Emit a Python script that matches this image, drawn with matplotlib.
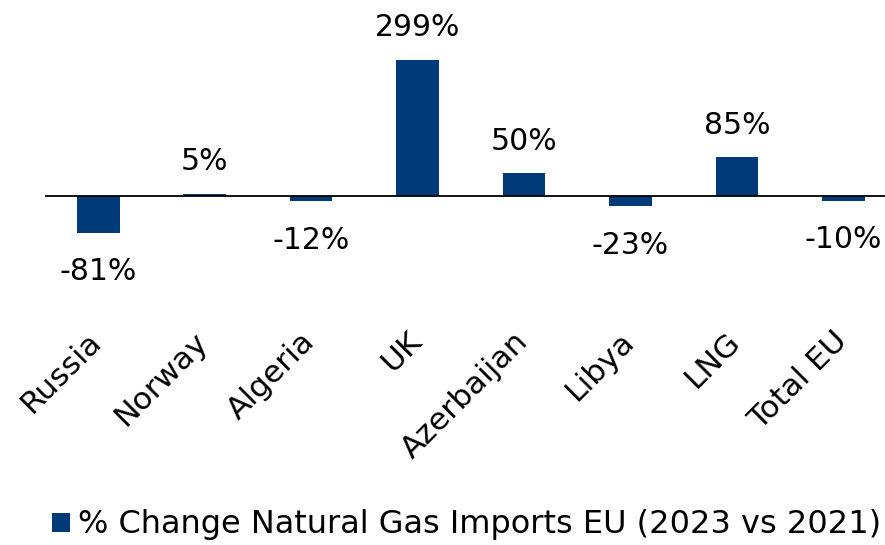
import matplotlib.pyplot as plt
from matplotlib.transforms import ScaledTranslation

countries = ['Russia', 'Norway', 'Algeria', 'UK', 'Azerbaijan', 'Libya', 'LNG', 'Total EU']
change = [-81, 5, -12, 299, 50, -23, 85, -10]
labels = ['-81%', '5%', '-12%', '299%', '50%', '-23%', '85%', '-10%']

plt.rcParams['font.family'] = ['DejaVu Sans']
color = '#003a78'

fig = plt.figure(figsize=(8.85, 5.45), dpi=100)
ax = fig.add_axes([45 / 885, 1 - 300 / 545, 840 / 885, 290 / 545])

x = list(range(len(countries)))
ax.bar(x, change, width=0.4, color=color, label='% Change Natural Gas Imports EU (2023 vs 2021)')
ax.axhline(0, color='black', lw=1.3)
ax.set_xlim(-0.5, 7.39)
ax.set_ylim(-(300 - 196) / 0.456, (196 - 10) / 0.456)

for xi, v, lab in zip(x, change, labels):
    off = 23 if v >= 0 else -28
    ax.annotate(lab, (xi, v), xytext=(0, off), textcoords='offset points',
                ha='center', va='center', fontsize=21.5)

for s in ax.spines.values():
    s.set_visible(False)
ax.set_yticks([])
ax.set_xticks(x)
ax.tick_params(axis='x', length=0, pad=19)
ax.set_xticklabels(countries, rotation=45, ha='right', va='top', rotation_mode='anchor',
                   fontsize=22.5)
shift = ScaledTranslation(-11 / 100, 0, fig.dpi_scale_trans)
for t in ax.get_xticklabels():
    t.set_transform(t.get_transform() + shift)

fig.legend(loc='center', bbox_to_anchor=(0.527, 1 - 525 / 545), frameon=False,
           prop={'size': 23}, handlelength=0.55, handleheight=0.55,
           handletextpad=0.25)

fig.savefig('out.png', dpi=100)
